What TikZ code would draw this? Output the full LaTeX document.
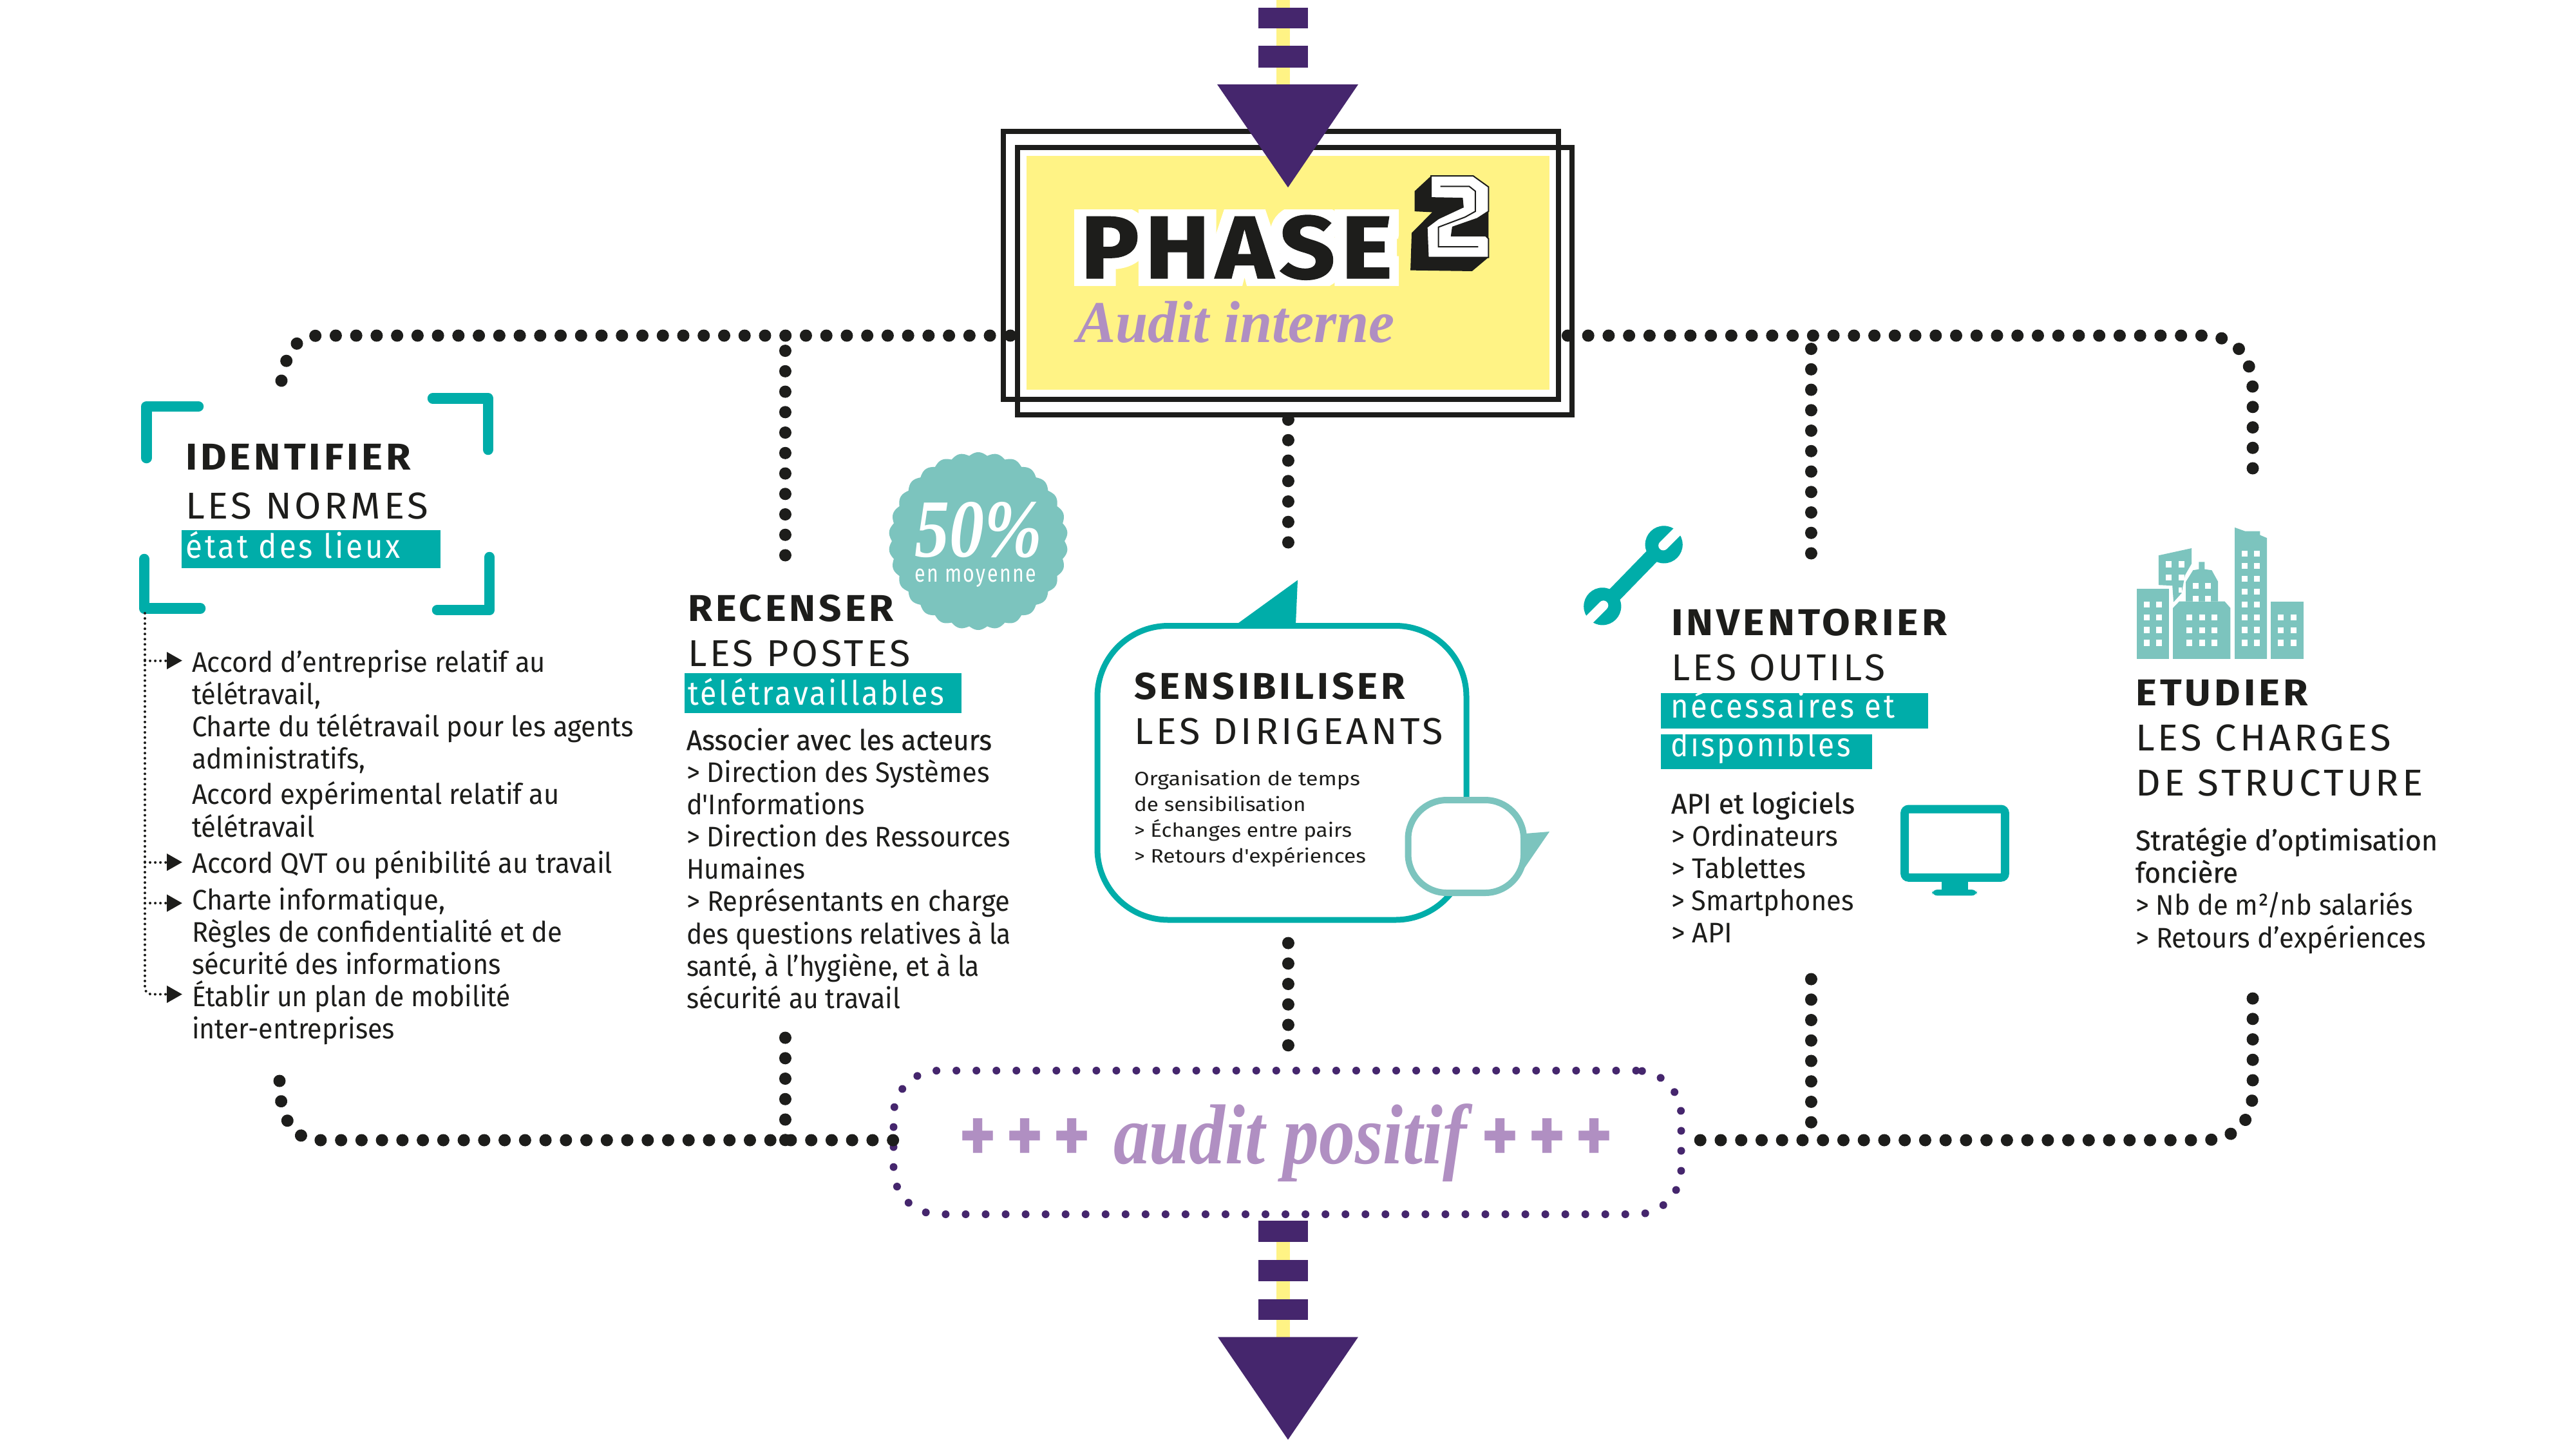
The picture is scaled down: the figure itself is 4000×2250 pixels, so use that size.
\documentclass[tikz,border=0pt]{standalone}
\usepackage{fontspec}
\usepackage{graphicx}
\usetikzlibrary{arrows.meta}
\newdimen\pxu \pxu=0.25pt
\newfontfamily\bodyf{Fira Sans}
\newfontfamily\medf[FakeBold=0.5]{Fira Sans}
\newfontfamily\headf[LetterSpace=8,BoldFont={Fira Sans Bold}]{Fira Sans}
\newfontfamily\headbf[LetterSpace=8]{Fira Sans Bold}
\newfontfamily\phasef[FakeBold=1,LetterSpace=6]{Fira Sans Bold}
\newfontfamily\phasehalo[FakeBold=26,LetterSpace=6]{Fira Sans Bold}
\newfontfamily\scriptf{Liberation Serif Bold Italic}
\newfontfamily\plusf[LetterSpace=14]{Fira Sans Bold}
\newcommand\WL[2]{\resizebox{#1\pxu}{\height}{#2}}
\newcommand\BK[1]{\begin{tabular}[t]{@{}l@{}}#1\end{tabular}}
\definecolor{ink}{HTML}{1D1D1B}
\definecolor{teal1}{HTML}{00ADA9}
\definecolor{teal2}{HTML}{7CC4BE}
\definecolor{sun}{HTML}{FFF385}
\definecolor{plum}{HTML}{45266D}
\definecolor{lilac}{HTML}{B08FC2}
\tikzset{
  txt/.style={anchor=base west,inner sep=0pt,outer sep=0pt,text=ink},
  body/.style={txt,font=\bodyf\fontsize{11pt}{12.5pt}\selectfont},
  small/.style={txt,font=\bodyf\fontsize{7.5pt}{10pt}\selectfont},
  head/.style={txt,font=\fontsize{14.5pt}{17.5pt}\selectfont},
  sub/.style={txt,text=white,font=\headf\fontsize{13pt}{15pt}\selectfont},
  bigdots/.style={draw=ink,line width=19\pxu,line cap=round,dash pattern=on 0.01pt off 31.7\pxu},
  minidots/.style={draw=ink,line width=4\pxu,line cap=round,dash pattern=on 0.01pt off 8\pxu,
     -{Triangle[length=6pt,width=6.5pt]}},
  bracket/.style={draw=teal1,line width=16.5\pxu,line cap=round,line join=round},
  pframe/.style={draw=ink,line width=8\pxu,inner sep=0pt,outer sep=0pt},
}
\begin{document}
\begin{tikzpicture}[x=1\pxu,y=-1\pxu]
\useasboundingbox (0,0) rectangle (4000,2250);
\fill[white] (0,0) rectangle (4000,2250);

% box nodes
\node[pframe,minimum width=862\pxu,minimum height=416\pxu] (phaseA) at (1989,412) {};
\node[pframe,minimum width=861\pxu,minimum height=415\pxu] (phaseB) at (2010.5,436.5) {};
\node[draw=plum,line width=12\pxu,line cap=round,dash pattern=on 0.01pt off 31\pxu,
      rounded corners=17.5pt,inner sep=0pt,outer sep=0pt,
      minimum width=1223\pxu,minimum height=223\pxu] (auditbox) at (1999,1773.5) {};

% free ends
\coordinate (tlEnd) at (437,591);
\coordinate (trEnd) at (3498,727);
\coordinate (blEnd) at (434,1678);
\coordinate (brEnd) at (3498,1550);
\coordinate (t1) at (1219,521);  \coordinate (t1e) at (1219,862);
\coordinate (t2) at (2812,521);  \coordinate (t2e) at (2812,859);
\coordinate (m1) at (2000,623);  \coordinate (m1e) at (2000,842);
\coordinate (m2) at (2000,1630); \coordinate (m2e) at (2000,1464);
\coordinate (b1) at (1219,1770); \coordinate (b1e) at (1219,1611);
\coordinate (b2) at (2812,1770); \coordinate (b2e) at (2812,1520);

% dotted connectors
\draw[bigdots] (tlEnd) .. controls (445,545) and (460,521) .. (496,521) -- ([xshift=-7\pxu]phaseB.west |- 0,521);
\draw[bigdots] (trEnd) -- (3498,610) .. controls (3498,550) and (3470,521) .. (3420,521) -- ([xshift=8\pxu]phaseA.east |- 0,521);
\draw[bigdots] (blEnd) .. controls (434,1727) and (450,1770) .. (496,1770) -- (auditbox.west |- 0,1770);
\draw[bigdots] (brEnd) -- (3498,1692) .. controls (3498,1742) and (3470,1770) .. (3420,1770) -- (auditbox.east |- 0,1770);
\draw[bigdots] (t1e) -- (t1);
\draw[bigdots] (t2e) -- (t2);
\draw[bigdots] (m1e) -- (m1);
\draw[bigdots] (m2e) -- (m2);
\draw[bigdots] (b1e) -- (b1);
\draw[bigdots] (b2e) -- (b2);

% redraw frames above the dots
\fill[sun] (1594,242) rectangle (2406,605);
\draw[draw=ink,line width=8\pxu] (phaseA.south west) rectangle (phaseA.north east);
\draw[draw=ink,line width=8\pxu] (phaseB.south west) rectangle (phaseB.north east);

% top arrow
\fill[sun] (1981.5,0) rectangle (2002.5,135);
\fill[plum] (1954,12) rectangle (2031,44);
\fill[plum] (1954,71) rectangle (2031,105);
\fill[plum] (1890,131) -- (2109,131) -- (2000,291) -- cycle;

% PHASE
\begin{scope}
\clip (1660,325) rectangle (2172,443);
\node[txt,text=white,font=\phasehalo\fontsize{34.5pt}{40pt}\selectfont] (phasehalotxt) at (1678,432) {\WL{484}{PHASE}};
\end{scope}
\node[txt,font=\phasef\fontsize{34.5pt}{40pt}\selectfont] (phasetxt) at (1678,432) {\WL{484}{PHASE}};
\node[txt,text=lilac,font=\scriptf\fontsize{23pt}{26pt}\selectfont] (auditint) at (1672,531) {\WL{494}{Audit interne}};

% the big 2
\begin{scope}[shift={(1500,0)},xscale=0.6378,yscale=0.4464]
 \fill[ink] (1132,612) -- (1092,665) -- (1092,735) -- (1135,738) -- (1085,810) -- (1082,940) -- (1232,943) -- (1272,895) -- (1272,650) -- (1235,612) -- cycle;
 \draw[draw=ink,fill=white,line width=2\pxu] (1132,612) -- (1235,612) -- (1272,650) -- (1272,735) -- (1245,760) -- (1185,790) -- (1182,820) -- (1265,820) -- (1272,830) -- (1272,895) -- (1125,895) -- (1122,790) -- (1150,760) -- (1210,720) -- (1208,690) -- (1132,688) -- cycle;
 \fill[ink] (1182,820) -- (1230,770) -- (1185,790) -- cycle;
 \draw[draw=ink,line width=2\pxu] (1155,648) -- (1225,648) -- (1240,665) -- (1240,735) -- (1215,755) -- (1150,790) -- (1150,858) -- (1247,858);
\end{scope}

% ---- IDENTIFIER
\draw[bracket] (227.5,711) -- (227.5,631) -- (308,631);
\draw[bracket] (672,618.5) -- (758,618.5) -- (758,698);
\draw[bracket] (224,868) -- (224,944.5) -- (311,944.5);
\draw[bracket] (679,947) -- (760,947) -- (760,865);
\fill[teal1] (282,823) rectangle (684,882);
\node[head] (idhead) at (288,729) {\BK{{\headbf\WL{350}{IDENTIFIER}}\\[6\pxu]{\headf\WL{377}{LES NORMES}}}};
\node[sub] (idsub) at (288.5,866) {\WL{333}{état des lieux}};

\node[body] (item1) at (298,1043) {\BK{\WL{549}{Accord d’entreprise relatif au}\\\WL{200}{télétravail,}\\\WL{686}{Charte du télétravail pour les agents}\\\WL{269}{administratifs,}\\[5\pxu]\WL{571}{Accord expérimental relatif au}\\\WL{191}{télétravail}}};
\node[body] (item2) at (298,1355) {\WL{653}{Accord QVT ou pénibilité au travail}};
\node[body] (item3) at (298,1412) {\BK{\WL{393}{Charte informatique,}\\\WL{575}{Règles de confidentialité et de}\\\WL{479.5}{sécurité des informations}}};
\node[body] (item4) at (298,1562) {\BK{\WL{495}{Établir un plan de mobilité}\\\WL{315}{inter-entreprises}}};

\coordinate (sp0) at (225,952);
\coordinate (sp1) at (225,1025.5); \coordinate (a1) at (283,1025.5);
\coordinate (sp2) at (225,1338.5); \coordinate (a2) at (283,1338.5);
\coordinate (sp3) at (225,1402);   \coordinate (a3) at (283,1402);
\coordinate (a4) at (283,1543.5);
\draw[minidots,rounded corners=2.5pt] (sp0) -- (225,1543.5) -- (a4);
\draw[minidots] (sp1) -- (a1);
\draw[minidots] (sp2) -- (a2);
\draw[minidots] (sp3) -- (a3);

% ---- RECENSER
\fill[teal2] plot[domain=0:360,samples=361,smooth] ({1519+(134+5*abs(sin(15*\x)))*cos(\x)},{840+(133+5*abs(sin(15*\x)))*sin(\x)});
\node[txt,text=white,font=\scriptf\fontsize{32pt}{36pt}\selectfont] (badgeval) at (1420,864) {\WL{198}{50\%}};
\node[txt,text=white,font=\headf\fontsize{9.5pt}{11pt}\selectfont] (badgelab) at (1420,903) {\WL{189}{en moyenne}};

\fill[teal1] (1063,1045) rectangle (1493,1107);
\node[head] (rchead) at (1068,964) {\BK{{\headbf\WL{320}{RECENSER}}\\{\headf\WL{346}{LES POSTES}}}};
\node[sub] (rcsub) at (1068,1094) {\WL{398.5}{télétravaillables}};
\node[body] (rcbody) at (1066,1164.4) {\BK{{\medf\WL{474}{Associer avec les acteurs}}\\\WL{470.6}{> Direction des Systèmes}\\\WL{277}{d'Informations}\\\WL{503}{> Direction des Ressources}\\\WL{184}{Humaines}\\\WL{502}{> Représentants en charge}\\\WL{504}{des questions relatives à la}\\\WL{455}{santé, à l’hygiène, et à la}\\\WL{332}{sécurité au travail}}};

% ---- SENSIBILISER
\fill[teal1] (1920.4,969) -- (2015,900.5) -- (2012,969) -- cycle;
\node[draw=teal1,line width=9\pxu,rounded corners=27.5pt,inner sep=0pt,outer sep=0pt,
      minimum width=573\pxu,minimum height=456.5\pxu] (bubble) at (1990.5,1199.75) {};
\fill[teal2] (2360,1294.7) -- (2406,1291) -- (2362,1355) -- cycle;
\node[draw=teal2,fill=white,line width=10\pxu,rounded corners=15pt,inner sep=0pt,outer sep=0pt,
      minimum width=179.5\pxu,minimum height=144\pxu] (minibubble) at (2276.25,1314) {};
\node[head] (snhead) at (1761,1085) {\BK{{\headbf\WL{421}{SENSIBILISER}}\\{\headf\WL{480}{LES DIRIGEANTS}}}};
\node[small] (snbody) at (1761,1219.5) {\BK{\WL{351}{Organisation de temps}\\\WL{266.5}{de sensibilisation}\\\WL{338}{> Échanges entre pairs}\\\WL{360}{> Retours d'expériences}}};

% ---- INVENTORIER
\begin{scope}[shift={(2400,750)},scale=0.5102]
 \draw[draw=teal1,line width=23\pxu] (180,370) -- (355,190);
 \fill[teal1] (360,187) circle (57);
 \fill[teal1] (173,375) circle (57);
 \draw[draw=white,line width=15\pxu,line cap=round] (358,190) -- (425,123);
 \draw[draw=white,line width=15\pxu,line cap=round] (176,372) -- (105,443);
 \draw[draw=teal1,line width=13\pxu,rounded corners=1.5pt] (1093,992) rectangle (1398,1200);
 \fill[teal1] (1205,1205) rectangle (1285,1245);
 \fill[teal1,rounded corners=2pt] (1176,1237) rectangle (1313,1255);
\end{scope}
\fill[teal1] (2579,1075.5) rectangle (2994,1131);
\fill[teal1] (2579,1140) rectangle (2907,1194);
\node[head] (ivhead) at (2595,986.5) {\BK{{\headbf\WL{428}{INVENTORIER}}\\{\headf\WL{332.5}{LES OUTILS}}}};
\node[sub] (ivsub1) at (2594,1114.5) {\WL{348}{nécessaires et}};
\node[sub] (ivsub2) at (2594,1174) {\WL{279.5}{disponibles}};
\node[body] (ivbody) at (2595,1263) {\BK{{\medf\WL{285}{API et logiciels}}\\\WL{259}{> Ordinateurs}\\\WL{209.6}{> Tablettes}\\\WL{283.6}{> Smartphones}\\\WL{95}{> API}}};

% ---- ETUDIER
\begin{scope}[shift={(3200,750)},xscale=0.4464,yscale=0.5102]
 \fill[teal2] (264,322) rectangle (376,535);
 \fill[teal2] (340,220) -- (455,198) -- (455,245) -- (432,280) -- (420,335) -- (392,362) -- (388,312) -- (340,310) -- cycle;
 \fill[teal2] (435,360) -- (435,300) -- (460,265) -- (480,262) -- (480,240) -- (500,240) -- (500,262) -- (525,265) -- (547,300) -- (547,360) -- cycle;
 \fill[teal2] (390,380) -- (412,360) -- (570,360) -- (590,380) -- (590,535) -- (390,535) -- cycle;
 \fill[teal2] (605,135) -- (640,146) -- (693,146) -- (693,158) -- (717,167) -- (717,535) -- (605,535) -- cycle;
 \fill[teal2] (730,361) rectangle (844,535);
 \foreach \wx in {289,332} \foreach \wy in {360,399,438,477} \fill[white] (\wx,\wy) rectangle +(20,18);
 \foreach \wx in {365,410} \foreach \wy in {238,278} \fill[white] (\wx,\wy) rectangle +(20,18);
 \fill[white] (410,318) rectangle +(12,16);
 \foreach \wx in {460,502} \foreach \wy in {304,343} \fill[white] (\wx,\wy) rectangle +(20,17);
 \foreach \wx in {437,481,524} \foreach \wy in {400,439,477} \fill[white] (\wx,\wy) rectangle +(20,18);
 \foreach \wx in {629,673} \foreach \wy in {205,243,282,321,360,399,438,477} \fill[white] (\wx,\wy) rectangle +(20,18);
 \foreach \wx in {755,800} \foreach \wy in {400,439,477} \fill[white] (\wx,\wy) rectangle +(20,18);
\end{scope}
\node[head] (ethead) at (3316.5,1095.5) {\BK{{\headbf\WL{267}{ETUDIER}}\\{\headf\WL{396.5}{LES CHARGES}}\\{\headf\WL{445.6}{DE STRUCTURE}}}};
\node[body] (etbody) at (3316,1320) {\BK{{\medf\WL{469}{Stratégie d’optimisation}}\\{\medf\WL{159}{foncière}}\\\WL{431}{> Nb de m²/nb salariés}\\\WL{451}{> Retours d’expériences}}};

% ---- audit positif
\node[txt,text=lilac,font=\fontsize{25pt}{28pt}\selectfont] (auditpos) at (1489,1806)
 {\raisebox{2\pxu}{\plusf\fontsize{31pt}{34pt}\selectfont\WL{205}{+++}}\hspace{35\pxu}{\scriptf\fontsize{33pt}{36pt}\selectfont\WL{549}{audit positif}}\hspace{22\pxu}\raisebox{2\pxu}{\plusf\fontsize{31pt}{34pt}\selectfont\WL{205}{+++}}};

% bottom arrow
\fill[sun] (1982,1900) rectangle (2003,2080);
\fill[plum] (1953.6,1895.4) rectangle (2031,1928);
\fill[plum] (1953.6,1956) rectangle (2031,1989);
\fill[plum] (1953.6,2017) rectangle (2031,2049);
\fill[plum] (1891,2075.5) -- (2109,2075.5) -- (2000,2235) -- cycle;
\end{tikzpicture}
\end{document}
